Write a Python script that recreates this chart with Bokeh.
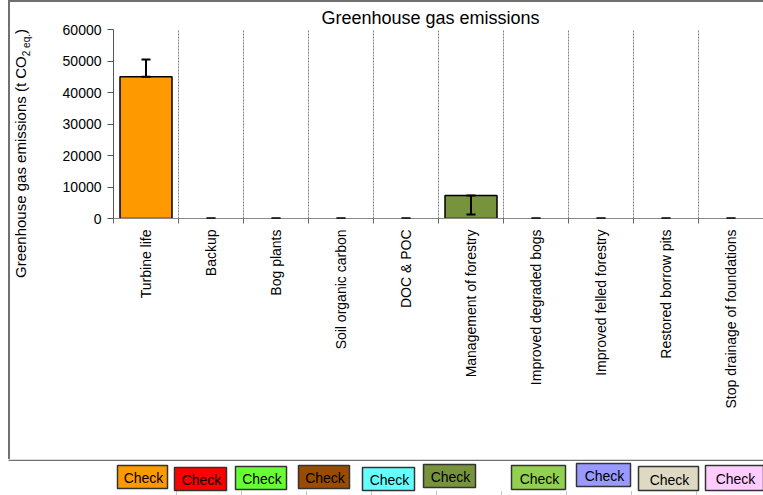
import math
from bokeh.plotting import figure
from bokeh.layouts import column, row
from bokeh.models import (ColumnDataSource, Range1d, FixedTicker, Whisker, TeeHead, Div, Spacer)
from bokeh.core.properties import value
from bokeh.embed import file_html
from bokeh.resources import INLINE

# --- data -------------------------------------------------------------------
categories = ["Turbine life", "Backup", "Bog plants", "Soil organic carbon", "DOC & POC",
              "Management of forestry", "Improved degraded bogs", "Improved felled forestry",
              "Restored borrow pits", "Stop drainage of foundations"]
emissions = [45000, 0, 0, 0, 0, 7300, 0, 0, 0, 0]
err_plus = [5500, 0, 0, 0, 0, 0, 0, 0, 0, 0]
err_minus = [0, 0, 0, 0, 0, 6000, 0, 0, 0, 0]
y_ticks = [0, 10000, 20000, 30000, 40000, 50000, 60000]
colors = ["#FF9900", "#FF0000", "#66FF33", "#994C00", "#66FFFF",
          "#77933C", "#92D050", "#9999FF", "#DDD9C3", "#FFCCFF"]
title_text = "Greenhouse gas emissions"
ylabel_main, ylabel_sub, ylabel_end = "Greenhouse gas emissions (t CO", "2 eq.", ")"
button_text = "Check"

FONT = "Liberation Sans"
W, H = 763, 495
GAP = 8              # white margin left of the box
LINE = 2             # thickness of the box border
LABEL_W = 30         # strip holding the rotated axis title
BOT_Y = 459          # page y of the lower border
FL, FT, FB = 113, 29, 218   # frame left / top / bottom on the page
FRAME = "#707070"

n = len(categories)
centers = [i + 0.5 for i in range(n)]
LEFT_W = GAP + LINE + LABEL_W
CH_H = BOT_Y - LINE
BOT_H = H - BOT_Y

# --- main chart ---------------------------------------------------------------
p = figure(width=W - LEFT_W, height=CH_H, output_backend="svg", toolbar_location=None,
           x_range=Range1d(0, n), y_range=Range1d(y_ticks[0], y_ticks[-1]),
           min_border_left=FL - LEFT_W, min_border_right=0,
           min_border_top=FT - LINE, min_border_bottom=BOT_Y - FB)
p.outline_line_color = None
p.background_fill_color = "white"
p.border_fill_color = "white"

p.title.text = title_text
p.title.text_font = FONT
p.title.text_font_size = "18px"
p.title.text_font_style = "normal"
p.title.text_color = "black"
p.title.align = "left"
p.title.offset = 208
p.title.standoff = 4

bars = ColumnDataSource(dict(
    x=[c for c, v in zip(centers, emissions) if v > 0],
    top=[v for v in emissions if v > 0],
    color=[col for col, v in zip(colors, emissions) if v > 0]))
p.vbar(x="x", top="top", bottom=0, width=0.8, source=bars, fill_color="color",
       line_color="black", line_width=1.5)

errs = ColumnDataSource(dict(
    base=centers,
    upper=[v + e for v, e in zip(emissions, err_plus)],
    lower=[v - e for v, e in zip(emissions, err_minus)]))
p.add_layout(Whisker(source=errs, base="base", upper="upper", lower="lower",
                     dimension="height", line_color="black", line_width=2, level="overlay",
                     upper_head=TeeHead(size=9, line_color="black", line_width=2),
                     lower_head=TeeHead(size=9, line_color="black", line_width=2)))

p.yaxis.ticker = FixedTicker(ticks=y_ticks)
p.yaxis.axis_line_color = "#555555"
p.yaxis.major_tick_line_color = "#555555"
p.yaxis.major_tick_in = 0
p.yaxis.major_tick_out = 6
p.yaxis.minor_tick_line_color = None
p.yaxis.major_label_text_font = FONT
p.yaxis.major_label_text_font_size = "14px"
p.yaxis.major_label_text_color = "black"
p.yaxis.major_label_standoff = 6

p.xaxis.ticker = FixedTicker(ticks=centers, minor_ticks=list(range(n + 1)))
p.xaxis.major_label_overrides = {c: name for c, name in zip(centers, categories)}
p.xaxis.major_label_orientation = math.pi / 2
p.xaxis.axis_line_color = "#888888"
p.xaxis.major_tick_line_color = None
p.xaxis.major_tick_in = 0
p.xaxis.major_tick_out = 0
p.xaxis.minor_tick_line_color = "#666666"
p.xaxis.minor_tick_in = 0
p.xaxis.minor_tick_out = 5
p.xaxis.major_label_text_font = FONT
p.xaxis.major_label_text_font_size = "14px"
p.xaxis.major_label_text_color = "black"
p.xaxis.major_label_standoff = 6

p.ygrid.grid_line_color = None
p.xgrid.ticker = FixedTicker(ticks=list(range(1, n)))
p.xgrid.grid_line_color = "#808080"
p.xgrid.grid_line_dash = "2 1"
p.xgrid.grid_line_width = 1

# --- box border (top and left edges) ---------------------------------------------
top_line = Div(text="", width=W - GAP, height=LINE, margin=(0, 0, 0, GAP),
               styles={"background-color": FRAME})
left_gap = Spacer(width=GAP, height=CH_H, margin=0)
left_line = Div(text="", width=LINE, height=CH_H, margin=0,
                styles={"background-color": FRAME})

# --- rotated axis title with subscript ---------------------------------------------
ylabel = Div(width=LABEL_W, height=CH_H, margin=0, text=(
    f'<div style="position:relative;width:{LABEL_W}px;height:{CH_H}px;">'
    f'<div style="position:absolute;left:{13 - GAP - LINE}px;top:{278 - LINE}px;'
    "transform-origin:0 0;transform:rotate(-90deg);white-space:nowrap;"
    "font-family:'Liberation Sans';font-size:15px;line-height:15px;color:black;\">"
    f'{ylabel_main}<sub style="font-size:10px;">{ylabel_sub}</sub>{ylabel_end}</div></div>'))

# --- bottom strip: lower border and the button row ------------------------------
bot = figure(width=W, height=BOT_H, output_backend="svg", toolbar_location=None,
             x_range=Range1d(0, W), y_range=Range1d(0, BOT_H),
             x_axis_type=None, y_axis_type=None, min_border=0)
bot.outline_line_color = None
bot.grid.visible = False
bot.background_fill_color = "white"
bot.border_fill_color = "white"


def by(cy):
    """Page y -> bottom-strip data y."""
    return H - cy


bot.segment(x0=[GAP], y0=[by(BOT_Y + 0.75)], x1=[W], y1=[by(BOT_Y + 0.75)],
            line_color=FRAME, line_width=1.5)
boxes = [(117, 167, 465, 488), (174, 226, 467, 490), (235, 286, 466, 489),
         (298, 349, 465, 488), (362, 414, 467, 490), (423, 475, 464, 487),
         (511, 565, 465, 489), (576, 630, 463, 486), (638, 698, 466, 490),
         (705, 763, 465, 490)]
bot.quad(left=[b[0] for b in boxes], right=[b[1] for b in boxes],
         top=[by(b[2]) for b in boxes], bottom=[by(b[3]) for b in boxes],
         fill_color=colors, line_color="#333333", line_width=1.5)
bot.text(x=[(b[0] + b[1]) / 2 + 1 for b in boxes], y=[by((b[2] + b[3]) / 2 + 1) for b in boxes],
         text=[button_text] * len(boxes), text_align="center", text_baseline="middle",
         text_font=value(FONT), text_font_size="14px", text_color="black")
# short dotted marks under the buttons, in line with the category separators
step = (W - FL) / n
sep_x = [FL - 2 + step * k for k in range(1, n)]
bot.segment(x0=sep_x, y0=[by(491)] * len(sep_x), x1=sep_x, y1=[0] * len(sep_x),
            line_color="#888888", line_width=1, line_dash="1 1")

layout = column(top_line, row(left_gap, left_line, ylabel, p, spacing=0), bot, spacing=0)
open("out.html", "w").write(file_html(layout, INLINE))
